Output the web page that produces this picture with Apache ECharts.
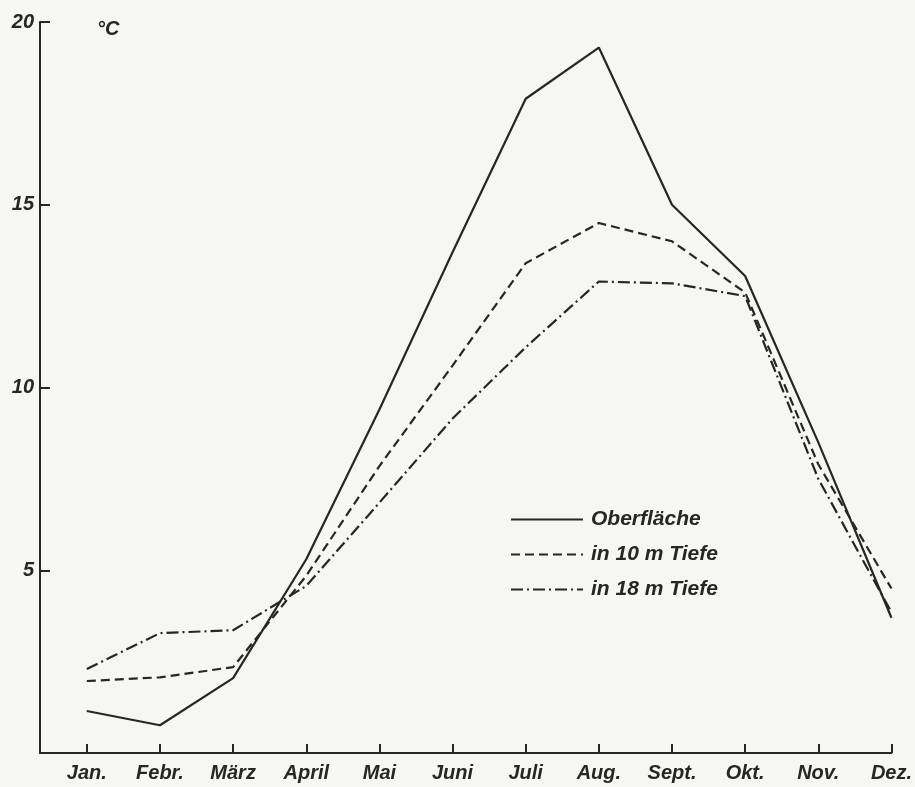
<!DOCTYPE html>
<html>
<head>
<meta charset="utf-8">
<script src="https://cdn.jsdelivr.net/npm/echarts@6/dist/echarts.min.js"></script>
<style>
  html, body { margin: 0; padding: 0; background: #f6f6f3; }
  #chart { width: 915px; height: 787px; }
</style>
</head>
<body>
<div id="chart"></div>
<script>
// Monatsmittel der Wassertemperatur (°C)
const months = ['Jan.', 'Febr.', 'März', 'April', 'Mai', 'Juni', 'Juli', 'Aug.', 'Sept.', 'Okt.', 'Nov.', 'Dez.']
const surface = [1.15, 0.76, 2.05, 5.3, 9.4, 13.7, 17.9, 19.3, 15.0, 13.05, 8.5, 3.7]
const depth10 = [1.97, 2.07, 2.35, 4.85, 7.85, 10.6, 13.4, 14.5, 14.0, 12.6, 7.9, 4.5]
const depth18 = [2.3, 3.28, 3.36, 4.57, 6.85, 9.15, 11.1, 12.9, 12.85, 12.5, 7.5, 3.85]
const yTicks = [0, 5, 10, 15, 20]

const ink = '#262626'
const labelFont = { fontFamily: 'Liberation Sans', fontStyle: 'italic', fontWeight: 'bold', color: ink }

const monthIdx = months.map((_, i) => i)
const toPoints = arr => arr.map((v, i) => [i, v])

function lineSeries(name, values, type) {
  return {
    name,
    type: 'line',
    data: toPoints(values),
    symbol: 'none',
    lineStyle: { color: ink, width: 2.2, type },
    itemStyle: { color: ink },
    silent: true
  }
}

const chart = echarts.init(document.getElementById('chart'))

chart.setOption({
  backgroundColor: '#f6f6f3',
  animation: false,
  title: {
    text: '°C',
    left: 92,
    top: 14,
    textStyle: { ...labelFont, fontSize: 20 }
  },
  legend: {
    orient: 'vertical',
    left: 505,
    top: 504,
    itemWidth: 72,
    itemHeight: 14,
    itemGap: 14,
    itemStyle: { opacity: 0 },
    data: ['Oberfläche', 'in 10 m Tiefe', 'in 18 m Tiefe'],
    textStyle: { ...labelFont, fontSize: 21, padding: [0, 0, 0, 3] }
  },
  grid: { left: 40, right: 23, top: 22, bottom: 34 },
  xAxis: {
    type: 'value',
    min: -0.64,
    max: 11,
    splitLine: { show: false },
    axisLine: { show: true, onZero: false, lineStyle: { color: ink, width: 2 } },
    axisTick: { show: true, inside: true, length: 9, customValues: monthIdx, lineStyle: { color: ink, width: 2 } },
    axisLabel: {
      ...labelFont,
      fontSize: 20,
      margin: 10,
      customValues: monthIdx,
      formatter: v => months[Math.round(v)]
    }
  },
  yAxis: {
    type: 'value',
    min: 0,
    max: 20,
    interval: 5,
    splitLine: { show: false },
    axisLine: { show: true, onZero: false, lineStyle: { color: ink, width: 2 } },
    axisTick: { show: true, inside: true, length: 10, lineStyle: { color: ink, width: 2 } },
    axisLabel: {
      ...labelFont,
      fontSize: 20,
      margin: 6,
      formatter: v => (yTicks.includes(v) && v > 0 ? String(v) : '')
    }
  },
  series: [
    lineSeries('Oberfläche', surface, 'solid'),
    lineSeries('in 10 m Tiefe', depth10, [9, 5]),
    lineSeries('in 18 m Tiefe', depth18, [12, 4, 2, 4])
  ]
})
</script>
</body>
</html>
